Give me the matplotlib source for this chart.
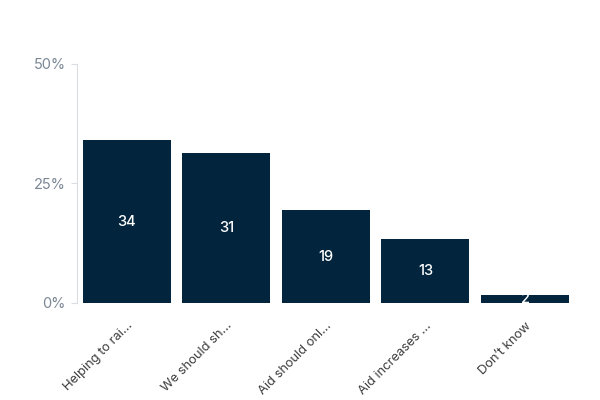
import matplotlib.pyplot as plt

categories = ["Helping to rai…", "We should sh…", "Aid should onl…", "Aid increases …", "Don’t know"]
values = [34.1, 31.4, 19.4, 13.3, 1.7]
value_labels = ["34", "31", "19", "13", "2"]
yticks = [0, 25, 50]
ytick_labels = ["0%", "25%", "50%"]

BAR = "#02243c"
GREY = "#7b8795"

plt.rcParams['font.family'] = ['Inter', 'DejaVu Sans']

fig = plt.figure(figsize=(6, 4), dpi=100)
ax = fig.add_axes([0.128, 0.2425, 0.83, 0.5975])

x = range(len(categories))
bars = ax.bar(x, values, width=0.885, color=BAR)

#value labels in the middle of each bar
for b, lab in zip(bars, value_labels):
    ax.text(b.get_x() + b.get_width() / 2, b.get_height() / 2, lab,
            ha='center', va='center', color='white', fontsize=10.5, fontweight='medium')

ax.set_xlim(-0.5, len(categories) - 0.5)
ax.set_ylim(0, 50)
ax.set_yticks(yticks)
ax.set_yticklabels(ytick_labels, color=GREY, fontsize=10.5)
ax.set_xticks(list(x))
ax.set_xticklabels(categories, rotation=45, ha='right', rotation_mode='anchor',
                   color="#3d3d3d", fontsize=9.3)

for s in ['top', 'right', 'bottom']:
    ax.spines[s].set_visible(False)
ax.spines['left'].set_color("#d9dee3")
ax.tick_params(axis='y', length=4, color="#d9dee3", pad=4)
ax.tick_params(axis='x', length=0, pad=12)

fig.savefig("out.png", dpi=100)
